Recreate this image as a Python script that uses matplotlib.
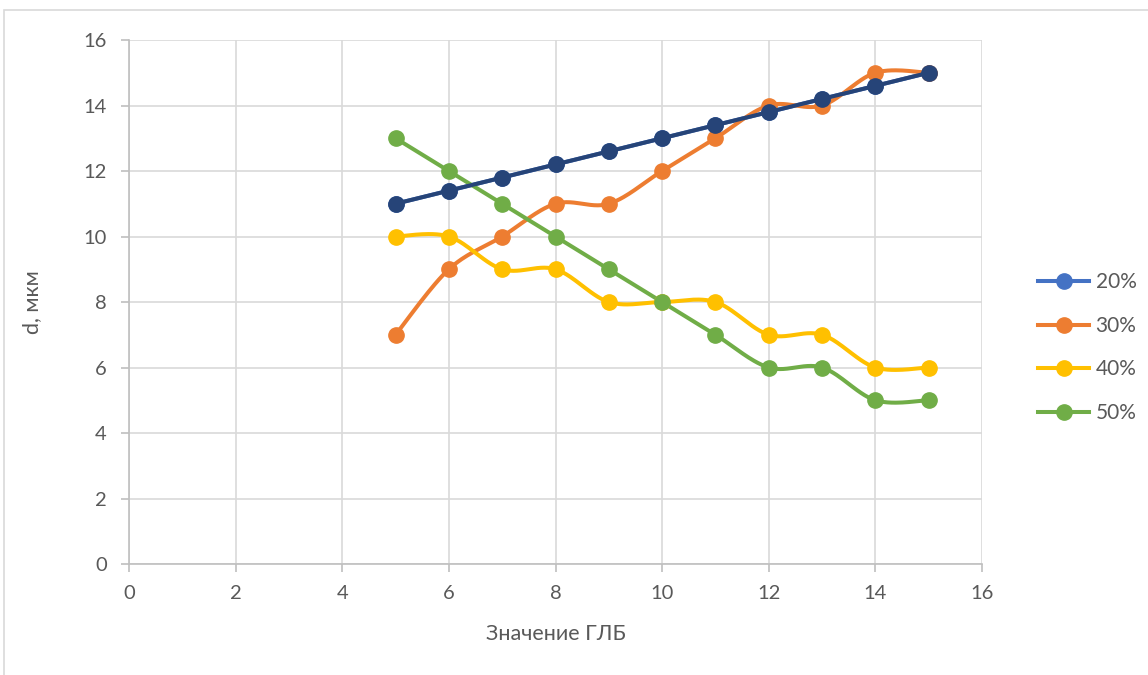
import numpy as np
import matplotlib
matplotlib.use("Agg")
import matplotlib.pyplot as plt
from matplotlib.patches import Rectangle

plt.rcParams['font.family'] = ['Lato', 'DejaVu Sans']

x = [5, 6, 7, 8, 9, 10, 11, 12, 13, 14, 15]
s20 = [11, 11.4, 11.8, 12.2, 12.6, 13, 13.4, 13.8, 14.2, 14.6, 15]
s30 = [7, 9, 10, 11, 11, 12, 13, 14, 14, 15, 15]
s40 = [10, 10, 9, 9, 8, 8, 8, 7, 7, 6, 6]
s50 = [13, 12, 11, 10, 9, 8, 7, 6, 6, 5, 5]
labels = ['20%', '30%', '40%', '50%']
colors = ['#4472C4', '#ED7D31', '#FFC000', '#70AD47']
overlay_color = '#264478'


def smooth(xs, ys, n=30):
    p = np.column_stack([xs, ys]).astype(float)
    out = [p[0]]
    for i in range(len(p) - 1):
        p0 = p[i - 1] if i > 0 else p[i]
        p1 = p[i]
        p2 = p[i + 1]
        p3 = p[i + 2] if i + 2 < len(p) else p[i + 1]
        c1 = p1 + (p2 - p0) / 6.0
        c2 = p2 - (p3 - p1) / 6.0
        t = np.linspace(0, 1, n)[1:, None]
        seg = ((1 - t) ** 3) * p1 + 3 * ((1 - t) ** 2) * t * c1 + 3 * (1 - t) * t ** 2 * c2 + t ** 3 * p2
        out.extend(seg)
    out = np.array(out)
    return out[:, 0], out[:, 1]


fig = plt.figure(figsize=(11.48, 6.75), dpi=100)
fig.patches.append(Rectangle((4 / 1148, -0.1), 1.2, 1 - 10 / 675 + 0.1,
                             transform=fig.transFigure, fill=False,
                             edgecolor='#D9D9D9', linewidth=1.2))
ax = fig.add_axes([129 / 1148, 1 - 564 / 675, (982 - 129) / 1148, (564 - 40) / 675])

lw = 2.9
ms = 11
series = [s20, s30, s40, s50]
for ys, lab, c in zip(series, labels, colors):
    sx, sy = smooth(x, ys)
    ax.plot(sx, sy, color=c, lw=lw, zorder=3, solid_capstyle='round')
    ax.plot(x, ys, 'o', color=c, ms=ms, zorder=4)
    ax.plot([], [], '-o', color=c, lw=lw, ms=ms, label=lab)

# dark overlay series drawn on top of 20%
sx, sy = smooth(x, s20)
ax.plot(sx, sy, color=overlay_color, lw=lw, zorder=5)
ax.plot(x, s20, 'o', color=overlay_color, ms=ms, zorder=6)

ax.set_xlim(0, 16)
ax.set_ylim(0, 16)
ax.set_xticks(range(0, 17, 2))
ax.set_yticks(range(0, 17, 2))
ax.grid(True, color='#D9D9D9', linewidth=1.2)
ax.set_axisbelow(True)
for sp in ['top', 'right']:
    ax.spines[sp].set_visible(False)
for sp in ['left', 'bottom']:
    ax.spines[sp].set_color('#BFBFBF')
    ax.spines[sp].set_linewidth(1.2)
ax.tick_params(axis='both', colors='#BFBFBF', length=6, width=1.2,
               labelcolor='#595959', labelsize=14.5)
ax.tick_params(axis='x', pad=9)
ax.tick_params(axis='y', pad=10)
ax.set_xlabel('Значение ГЛБ', fontsize=15.5, color='#595959', labelpad=16)
ax.set_ylabel('d, мкм', fontsize=15.5, color='#595959', labelpad=30)

leg = fig.legend(loc='upper left', bbox_to_anchor=(1030 / 1148, 1 - 264 / 675),
                 frameon=False, fontsize=15, labelspacing=1.13,
                 handlelength=2.45, handletextpad=0.3, borderaxespad=0)
for t in leg.get_texts():
    t.set_color('#595959')

fig.savefig('out.png', dpi=100)
